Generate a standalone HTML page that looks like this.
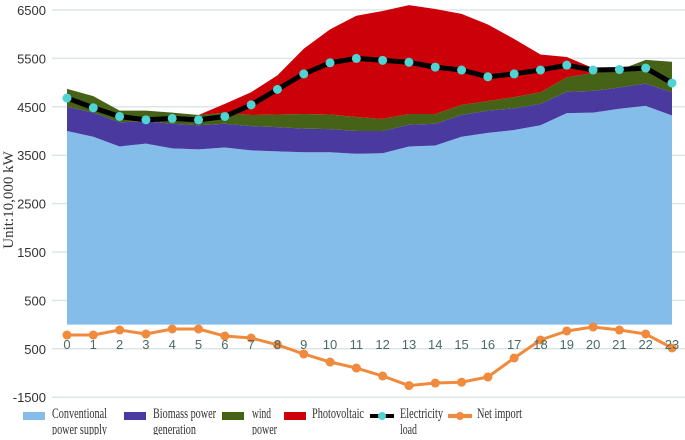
<!DOCTYPE html>
<html><head><meta charset="utf-8"><style>
body{margin:0;background:#fff;width:685px;height:435px;overflow:hidden}
svg text{font-family:"Liberation Sans",sans-serif}
.leg{font-family:"Liberation Serif",serif;font-size:15px;fill:#333}
</style></head><body>
<svg id="chart" width="685" height="435" viewBox="0 0 685 435" xmlns="http://www.w3.org/2000/svg">
<g id="grid"></g>
<g id="areas"></g>
<g id="lines"></g>
<g id="axes"></g>
<text transform="translate(13,200) rotate(-90)" text-anchor="middle" font-size="15" fill="#333" style="font-family:'Liberation Serif',serif">Unit:10,000 kW</text>
<g id="legend"></g>
</svg>
<script>
const hours=[0,1,2,3,4,5,6,7,8,9,10,11,12,13,14,15,16,17,18,19,20,21,22,23];
const conventional=[4000,3880,3680,3740,3640,3620,3660,3600,3580,3560,3560,3530,3540,3680,3700,3880,3960,4020,4120,4370,4380,4460,4520,4320];
const biomass=[500,500,500,460,510,500,490,500,500,490,480,470,460,450,450,450,460,450,440,440,450,440,460,480];
const wind=[370,340,240,220,230,210,230,230,260,300,300,290,250,220,200,210,200,230,240,300,370,360,490,630];
const photovoltaic=[0,0,0,0,0,0,180,470,810,1350,1760,2090,2230,2250,2170,1880,1580,1200,780,420,100,0,0,0];
const load=[4680,4480,4300,4230,4260,4230,4300,4540,4860,5180,5410,5500,5460,5420,5320,5260,5120,5180,5260,5360,5260,5270,5300,4990];
const netImport=[-215,-215,-112,-194,-91,-91,-236,-277,-417,-607,-773,-897,-1062,-1260,-1207,-1190,-1083,-690,-318,-132,-50,-112,-194,-483];
const yTicks=[6500,5500,4500,3500,2500,1500,500,-500,-1500];
const yTickLabels=["6500","5500","4500","3500","2500","1500","500","500","-1500"];

const NS="http://www.w3.org/2000/svg";
const X=h=>67+h*(605/23);
const Y=v=>324.6-v*0.0484;
function mk(tag,attrs,parent){const e=document.createElementNS(NS,tag);for(const k in attrs)e.setAttribute(k,attrs[k]);parent.appendChild(e);return e;}
const grid=document.getElementById('grid'),areas=document.getElementById('areas'),lines=document.getElementById('lines'),axes=document.getElementById('axes'),legend=document.getElementById('legend');
yTicks.forEach((t,i)=>{
  const l=mk('line',{x1:52,x2:685,y1:Y(t),y2:Y(t),stroke:'#dde6e6','stroke-width':1.5},grid);
  
  
  const tx=mk('text',{x:46,y:Y(t)+5,'text-anchor':'end','font-size':13,fill:'#333'},axes);
  tx.textContent=yTickLabels[i];
  
  
});
const series=[[conventional,'#85bdea','conventional-area'],[biomass,'#4a3aa0','biomass-area'],[wind,'#456216','wind-area'],[photovoltaic,'#cc0008','photovoltaic-area']];
let base=hours.map(()=>0);
series.forEach(([vals,col,name])=>{
  const top=base.map((b,i)=>b+vals[i]);
  let d='M'+hours.map(h=>X(h)+','+Y(top[h])).join('L');
  d+='L'+hours.slice().reverse().map(h=>X(h)+','+Y(base[h])).join('L')+'Z';
  const p=mk('path',{d:d,fill:col},areas);
  
  
  base=top;
});
hours.forEach(h=>{
  const t=mk('text',{x:X(h),y:349,'text-anchor':'middle','font-size':13,fill:'#4a6a6a'},axes);
  t.textContent=String(h);
  
  
});
const lp=mk('polyline',{points:hours.map(h=>X(h)+','+Y(load[h])).join(' '),fill:'none',stroke:'#000','stroke-width':5,'stroke-linejoin':'round'},lines);


hours.forEach(h=>{
  const c=mk('circle',{cx:X(h),cy:Y(load[h]),r:4.5,fill:'#4fd3d3'},lines);
  
  
});
const np=mk('polyline',{points:hours.map(h=>X(h)+','+Y(netImport[h])).join(' '),fill:'none',stroke:'#f08a3c','stroke-width':3,'stroke-linejoin':'round'},lines);


hours.forEach(h=>{
  const c=mk('circle',{cx:X(h),cy:Y(netImport[h]),r:4.5,fill:'#f08a3c'},lines);
  
  
});
const legItems=[
 {x:23,tx:52,col:'#85bdea',t:['Conventional','power supply'],w:[55,55],n:'legend-conventional'},
 {x:124,tx:153,col:'#4a3aa0',t:['Biomass power','generation'],w:[63,43],n:'legend-biomass'},
 {x:222,tx:252,col:'#456216',t:['wind','power'],w:[19,25],n:'legend-wind'},
 {x:284,tx:312,col:'#cc0008',t:['Photovoltaic'],w:[52],n:'legend-photovoltaic'},
 {x:370,tx:400,line:'#000',dot:'#4fd3d3',t:['Electricity','load'],w:[43,17],n:'legend-load'},
 {x:448,tx:477,line:'#f08a3c',dot:'#f08a3c',t:['Net import'],w:[45],n:'legend-net-import'}];
legItems.forEach(it=>{
  const g=mk('g',{},legend);
  
  
  if(it.line){mk('line',{x1:it.x,x2:it.x+24,y1:416,y2:416,stroke:it.line,'stroke-width':4},g);mk('circle',{cx:it.x+12,cy:416,r:4,fill:it.dot},g);}
  else mk('rect',{x:it.x,y:412,width:22,height:8,fill:it.col},g);
  it.t.forEach((s,i)=>{const tx=mk('text',{x:it.tx,y:418+i*16,class:'leg',textLength:it.w[i],lengthAdjust:'spacingAndGlyphs'},g);tx.textContent=s;});
});
</script>
</body></html>
